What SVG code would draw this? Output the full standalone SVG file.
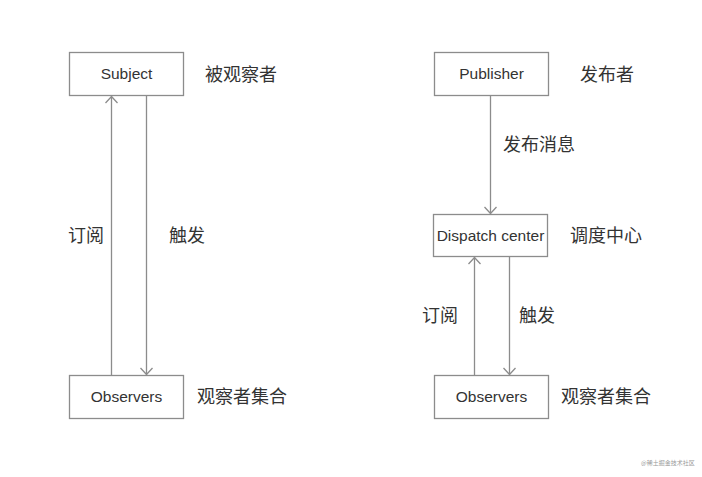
<svg xmlns="http://www.w3.org/2000/svg" width="702" height="477" viewBox="0 0 702 477">
  <style>
    .box { fill: #ffffff; stroke: #8c8c8c; stroke-width: 1.3; }
    .lbl { font-family: "Liberation Sans", Arial, sans-serif; font-size: 15.5px; fill: #333333; text-anchor: middle; }
    .cn { font-family: "Noto Sans CJK SC", "Liberation Sans", sans-serif; font-size: 18px; fill: #333333; }
    .wire { stroke: #8c8c8c; stroke-width: 1.3; fill: none; }
    .head { stroke: #8c8c8c; stroke-width: 1.3; fill: none; }
    .mark { font-family: "Noto Sans CJK SC", sans-serif; font-size: 6px; fill: #9a9a9a; }
  </style>
  <rect width="702" height="477" fill="#ffffff"/>

  <!-- observer pattern -->
  <g id="subject">
    <rect class="box" x="69.5" y="52.5" width="114" height="43"/>
    <text class="lbl" x="126.5" y="79">Subject</text>
    <text class="cn" x="205" y="81">被观察者</text>
  </g>
  <g id="observers-left">
    <rect class="box" x="69.5" y="375.5" width="114" height="43"/>
    <text class="lbl" x="126.5" y="402">Observers</text>
    <text class="cn" x="197" y="403">观察者集合</text>
  </g>

  <!-- publish / subscribe pattern -->
  <g id="publisher">
    <rect class="box" x="434.5" y="52.5" width="114" height="43"/>
    <text class="lbl" x="491.5" y="79">Publisher</text>
    <text class="cn" x="580" y="81">发布者</text>
  </g>
  <g id="dispatch-center">
    <rect class="box" x="433.5" y="214.5" width="114" height="42"/>
    <text class="lbl" x="490.5" y="241">Dispatch center</text>
    <text class="cn" x="570" y="242">调度中心</text>
  </g>
  <g id="observers-right">
    <rect class="box" x="434.5" y="375.5" width="114" height="43"/>
    <text class="lbl" x="491.5" y="402">Observers</text>
    <text class="cn" x="561" y="403">观察者集合</text>
  </g>

  <g id="connectors">
    <!-- subscribe: observers -> subject -->
    <line class="wire" x1="111.5" y1="375" x2="111.5" y2="96.5"/>
    <polyline class="head" points="105.5,103 111.5,96.5 117.5,103"/>
    <!-- trigger: subject -> observers -->
    <line class="wire" x1="146.5" y1="96" x2="146.5" y2="374.5"/>
    <polyline class="head" points="140.5,368 146.5,374.5 152.5,368"/>

    <!-- publish: publisher -> dispatch center -->
    <line class="wire" x1="490.5" y1="96" x2="490.5" y2="213.5"/>
    <polyline class="head" points="484.5,207 490.5,213.5 496.5,207"/>
    <!-- subscribe: observers -> dispatch center -->
    <line class="wire" x1="474.5" y1="375" x2="474.5" y2="257.5"/>
    <polyline class="head" points="468.5,264 474.5,257.5 480.5,264"/>
    <!-- trigger: dispatch center -> observers -->
    <line class="wire" x1="509.5" y1="257" x2="509.5" y2="374.5"/>
    <polyline class="head" points="503.5,368 509.5,374.5 515.5,368"/>

    <text class="cn" x="68" y="242">订阅</text>
    <text class="cn" x="169" y="242">触发</text>
    <text class="cn" x="503" y="151">发布消息</text>
    <text class="cn" x="422" y="322">订阅</text>
    <text class="cn" x="519" y="322">触发</text>
  </g>

  <text class="mark" x="641" y="465">@稀土掘金技术社区</text>
</svg>
